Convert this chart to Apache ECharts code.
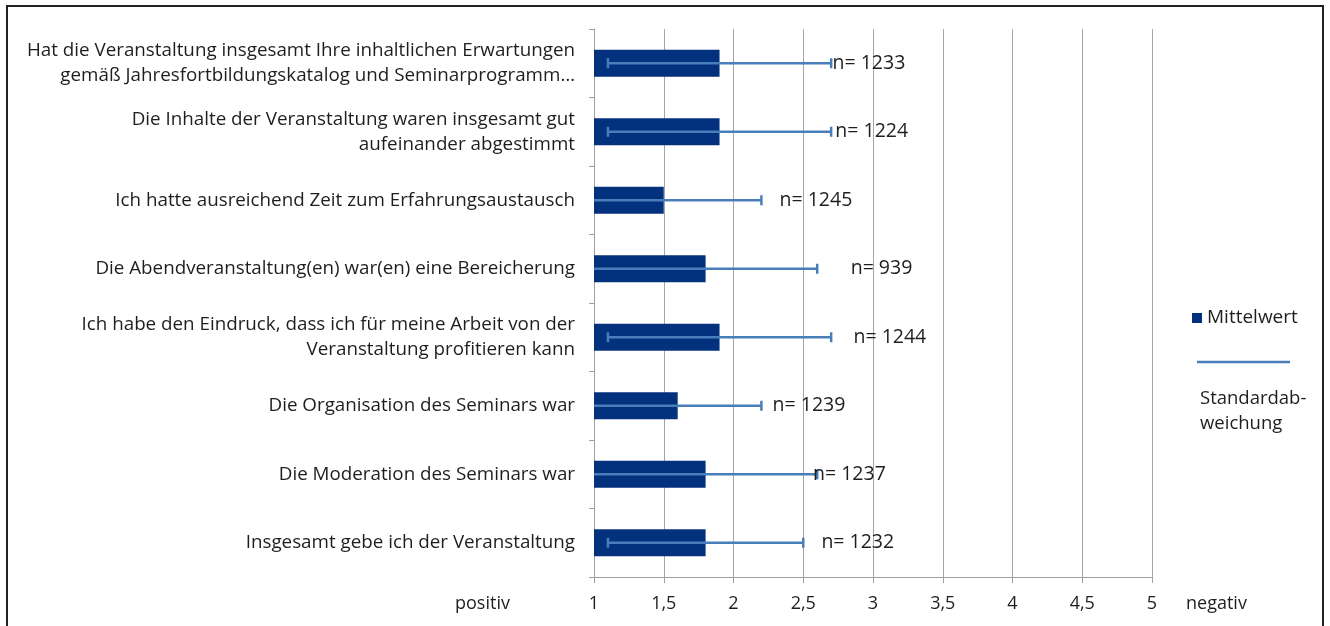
<!DOCTYPE html>
<html>
<head>
<meta charset="utf-8">
<script src="https://cdn.jsdelivr.net/npm/echarts@6/dist/echarts.min.js"></script>
<style>
html,body{margin:0;padding:0;background:#fff;}
#chart{width:1330px;height:626px;}
</style>
</head>
<body>
<div id="chart"></div>
<script>
const categories = [
  "Hat die Veranstaltung insgesamt Ihre inhaltlichen Erwartungen\ngemäß Jahresfortbildungskatalog und Seminarprogramm…",
  "Die Inhalte der Veranstaltung waren insgesamt gut\naufeinander abgestimmt",
  "Ich hatte ausreichend Zeit zum Erfahrungsaustausch",
  "Die Abendveranstaltung(en) war(en) eine Bereicherung",
  "Ich habe den Eindruck, dass ich für meine Arbeit von der\nVeranstaltung profitieren kann",
  "Die Organisation des Seminars war",
  "Die Moderation des Seminars war",
  "Insgesamt gebe ich der Veranstaltung"
];
const mittelwert = [1.9, 1.9, 1.5, 1.8, 1.9, 1.6, 1.8, 1.8];
const standardabweichung = [0.8, 0.8, 0.7, 0.8, 0.8, 0.6, 0.8, 0.7];
const nLabels = ["n= 1233", "n= 1224", "n= 1245", "n= 939", "n= 1244", "n= 1239", "n= 1237", "n= 1232"];
const nLabelX = [2.71, 2.73, 2.33, 2.84, 2.86, 2.28, 2.57, 2.63];
const xTicks = ["1", "1,5", "2", "2,5", "3", "3,5", "4", "4,5", "5"];

const FONT = '"Open Sans"';
const TXT = '#1e1e1e';
const AXIS_MIN = 1, AXIS_MAX = 5;

const chart = echarts.init(document.getElementById('chart'), null, {renderer: 'canvas'});

const errData = mittelwert.map((m, i) => [i, m, standardabweichung[i]]);
const labelData = nLabels.map((t, i) => [nLabelX[i], i, t]);

chart.setOption({
  animation: false,
  textStyle: {fontFamily: FONT},
  grid: {left: 594, right: 178, top: 29, bottom: 49, containLabel: false},
  xAxis: {
    type: 'value', min: AXIS_MIN, max: AXIS_MAX, interval: 0.5,
    axisLine: {show: true, lineStyle: {color: '#a0a0a0', width: 1}},
    axisTick: {show: true, length: 6, lineStyle: {color: '#a0a0a0'}},
    splitLine: {show: true, lineStyle: {color: '#a6a6a6', width: 1}},
    axisLabel: {
      margin: 18, fontSize: 18, color: TXT, fontFamily: FONT,
      formatter: v => xTicks[Math.round((v - AXIS_MIN) / 0.5)] ?? ''
    }
  },
  yAxis: {
    type: 'category', data: categories, inverse: true,
    axisLine: {show: true, lineStyle: {color: '#a0a0a0', width: 1}},
    axisTick: {show: true, length: 5, lineStyle: {color: '#a0a0a0'}},
    splitLine: {show: false},
    axisLabel: {margin: 19, fontSize: 18.8, lineHeight: 25, color: TXT, fontFamily: FONT, align: 'right'}
  },
  series: [
    {
      name: 'Mittelwert', type: 'bar', data: mittelwert, barWidth: 27,
      itemStyle: {color: '#04317e'}, z: 2
    },
    {
      name: 'Standardabweichung', type: 'custom', z: 3,
      data: errData,
      renderItem: function (params, api) {
        const cat = api.value(0), m = api.value(1), sd = api.value(2);
        const lo = m - sd, hi = m + sd;
        const loC = Math.max(lo, AXIS_MIN);
        const p1 = api.coord([loC, cat]);
        const p2 = api.coord([hi, cat]);
        const cap = 5;
        const style = {stroke: '#4a7ebb', lineWidth: 2.5};
        const children = [
          {type: 'line', shape: {x1: p1[0], y1: p1[1], x2: p2[0], y2: p2[1]}, style: style},
          {type: 'line', shape: {x1: p2[0], y1: p2[1] - cap, x2: p2[0], y2: p2[1] + cap}, style: style}
        ];
        if (lo > AXIS_MIN) {
          children.push({type: 'line', shape: {x1: p1[0], y1: p1[1] - cap, x2: p1[0], y2: p1[1] + cap}, style: style});
        }
        return {type: 'group', children: children};
      }
    },
    {
      name: 'n', type: 'custom', z: 4,
      data: labelData,
      renderItem: function (params, api) {
        const p = api.coord([api.value(0), api.value(1)]);
        return {
          type: 'text', x: p[0], y: p[1],
          style: {text: nLabels[params.dataIndex], fill: TXT, font: '19.5px ' + FONT, align: 'left', verticalAlign: 'middle'}
        };
      }
    }
  ],
  graphic: [
    {type: 'rect', shape: {x: 7, y: 6, width: 1316, height: 640}, style: {fill: 'none', stroke: '#222', lineWidth: 2}, silent: true},
    {type: 'text', x: 455, y: 604, style: {text: 'positiv', fill: TXT, font: '18px ' + FONT, verticalAlign: 'middle'}},
    {type: 'text', x: 1186, y: 604, style: {text: 'negativ', fill: TXT, font: '18px ' + FONT, verticalAlign: 'middle'}},
    {type: 'rect', shape: {x: 1192, y: 313, width: 10, height: 10}, style: {fill: '#04317e'}},
    {type: 'text', x: 1207, y: 318, style: {text: 'Mittelwert', fill: TXT, font: '19px ' + FONT, verticalAlign: 'middle'}},
    {type: 'line', shape: {x1: 1197, y1: 362, x2: 1290, y2: 362}, style: {stroke: '#4a7ebb', lineWidth: 2.5}},
    {type: 'text', x: 1200, y: 386, style: {text: 'Standardab-\nweichung', fill: TXT, font: '18.5px ' + FONT, lineHeight: 25, verticalAlign: 'top'}}
  ]
});
</script>
</body>
</html>
